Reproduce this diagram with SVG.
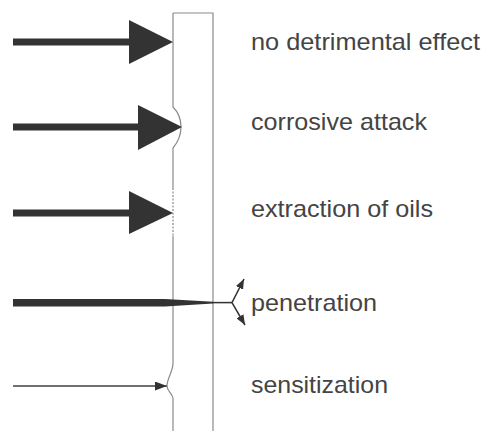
<svg xmlns="http://www.w3.org/2000/svg" width="485" height="431" viewBox="0 0 485 431">
<style>
.wall{fill:none;stroke:#8a8a8a;stroke-width:1.2}
.thick{fill:none;stroke:#333;stroke-width:7}
.head{fill:#333}
.lbl{font-family:"Liberation Sans",Arial,sans-serif;font-size:24px;fill:#444}
</style>
<defs>
<marker id="sm" markerUnits="userSpaceOnUse" markerWidth="10" markerHeight="8" refX="10" refY="4" orient="auto"><path d="M0,0 L10,4 L0,8 z" fill="#333"/></marker>
<marker id="sm2" markerUnits="userSpaceOnUse" markerWidth="12" markerHeight="9" refX="12" refY="4.5" orient="auto"><path d="M0,0 L12,4.5 L0,9 z" fill="#333"/></marker>
</defs>
<rect width="485" height="431" fill="#fff"/>
<g id="wall">
<path class="wall" d="M173,13 L213,13 L213,431"/>
<path class="wall" d="M173,13 L173,107 C178,112 181,120 181,127 C181,134 178,142 173,148 L173,188"/>
<path class="wall" d="M173,188 L173,236" stroke-dasharray="2 1.5"/>
<path class="wall" d="M173,236 L173,363 C173,372 167,378 167,386 C167,391 172,393 173,398 L173,431"/>
</g>
<g id="connectors">
<line class="thick" x1="13" y1="42" x2="131" y2="42"/>
<polygon class="head" points="129,20 173,42 129,64"/>
<line class="thick" x1="13" y1="127" x2="140" y2="127"/>
<polygon class="head" points="138,105 182,127 138,150"/>
<line class="thick" x1="13" y1="213" x2="131" y2="213"/>
<polygon class="head" points="129,191 173,213 129,234"/>
<rect x="13" y="299" width="152" height="7.5" fill="#333"/>
<polygon class="head" points="165,299 213,301.8 213,303.4 165,306.5"/>
<line x1="212" y1="302.6" x2="232" y2="302.6" stroke="#333" stroke-width="1.5"/>
<line x1="232" y1="302.6" x2="244" y2="279" stroke="#333" stroke-width="1.5" marker-end="url(#sm)"/>
<line x1="232" y1="302.6" x2="245" y2="325" stroke="#333" stroke-width="1.5" marker-end="url(#sm)"/>
<line x1="13" y1="386" x2="167" y2="386" stroke="#707070" stroke-width="2" marker-end="url(#sm2)"/>
</g>
<g id="label-1"><text class="lbl" x="251" y="50" textLength="229" lengthAdjust="spacingAndGlyphs">no detrimental effect</text></g>
<g id="label-2"><text class="lbl" x="251" y="130" textLength="176" lengthAdjust="spacingAndGlyphs">corrosive attack</text></g>
<g id="label-3"><text class="lbl" x="251" y="217" textLength="182" lengthAdjust="spacingAndGlyphs">extraction of oils</text></g>
<g id="label-4"><text class="lbl" x="251" y="311" textLength="126" lengthAdjust="spacingAndGlyphs">penetration</text></g>
<g id="label-5"><text class="lbl" x="251" y="393" textLength="137" lengthAdjust="spacingAndGlyphs">sensitization</text></g>
</svg>
